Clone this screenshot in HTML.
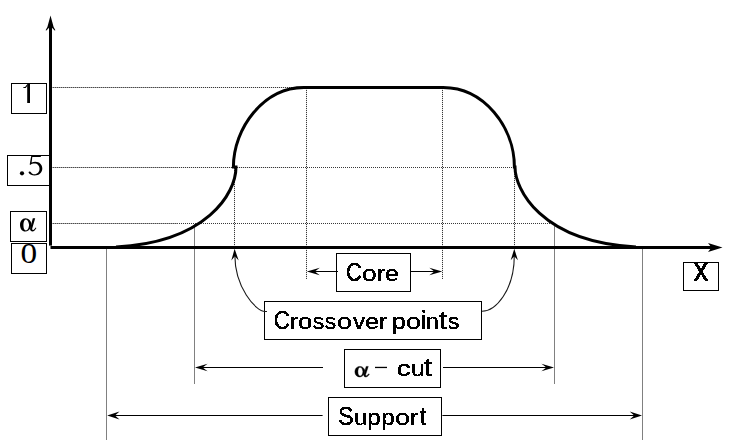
<!DOCTYPE html>
<html>
<head>
<meta charset="utf-8">
<style>
html,body{margin:0;padding:0;background:#fff;}
body{width:738px;height:441px;overflow:hidden;}
svg{display:block;}
.s{font-family:"Liberation Sans",sans-serif;font-size:25px;stroke:#000;stroke-width:0.15px;}
.r{font-family:"Liberation Serif",serif;}
</style>
</head>
<body>
<svg width="738" height="441" viewBox="0 0 738 441">
<defs>
<filter id="crisp" x="0" y="0" width="738" height="441" filterUnits="userSpaceOnUse" color-interpolation-filters="sRGB">
 <feComponentTransfer><feFuncA type="discrete" tableValues="0 1 1"/></feComponentTransfer>
</filter>

</defs>
<rect x="0" y="0" width="738" height="441" fill="#fff"/>

<!-- dotted guide lines: light base + dark dots -->
<g stroke-width="1" shape-rendering="crispEdges" fill="none">
  <line stroke="#a2a2a2" x1="52" y1="87.5" x2="178" y2="87.5"/>
  <line stroke="#a2a2a2" x1="52" y1="167.5" x2="178" y2="167.5"/>
  <line stroke="#a2a2a2" x1="52" y1="223.5" x2="178" y2="223.5"/>
  <line stroke="#dcdcdc" x1="178" y1="87.5" x2="292" y2="87.5"/>
  <line stroke="#dcdcdc" x1="178" y1="167.5" x2="296" y2="167.5"/>
</g>
<g stroke="#e2e2e2" stroke-width="1" shape-rendering="crispEdges" fill="none">
  <line x1="306.5" y1="88" x2="306.5" y2="279"/>
  <line x1="442.5" y1="88" x2="442.5" y2="279"/>
  <line x1="234.5" y1="168" x2="234.5" y2="249"/>
  <line x1="514.5" y1="168" x2="514.5" y2="249"/>
</g>
<g stroke="#4c4c4c" stroke-width="1" stroke-dasharray="1 1" shape-rendering="crispEdges" fill="none">
  <line x1="53" y1="87.5" x2="179" y2="87.5"/>
  <line x1="53" y1="167.5" x2="179" y2="167.5"/>
  <line x1="53" y1="223.5" x2="179" y2="223.5"/>
</g>
<g stroke="#383838" stroke-width="1" stroke-dasharray="1 1" shape-rendering="crispEdges" fill="none">
  <line x1="179" y1="87.5" x2="306" y2="87.5"/>
  <line x1="179" y1="167.5" x2="514" y2="167.5"/>
  <line x1="179" y1="223.5" x2="551" y2="223.5"/>
  <line x1="306.5" y1="88" x2="306.5" y2="279"/>
  <line x1="442.5" y1="88" x2="442.5" y2="279"/>
  <line x1="234.5" y1="168" x2="234.5" y2="249"/>
  <line x1="514.5" y1="168" x2="514.5" y2="249"/>
</g>

<!-- solid gray verticals -->
<g stroke="#808080" stroke-width="1" shape-rendering="crispEdges">
  <line x1="106.5" y1="249" x2="106.5" y2="440"/>
  <line x1="642.5" y1="249" x2="642.5" y2="440"/>
  <line x1="194.5" y1="224" x2="194.5" y2="384"/>
  <line x1="554.5" y1="224" x2="554.5" y2="384"/>
</g>

<!-- axes -->
<rect x="49" y="25" width="3" height="220.6" fill="#000"/>
<path d="M50.5,15.5 L53.6,27 L55.4,30.2 L54.6,30.4 L52,27.8 L49,27.8 L46.4,30.4 L45.6,30.2 L47.4,27 Z" fill="#000"/>
<rect x="50.5" y="246" width="662" height="3" fill="#000"/>
<path d="M722.5,247.5 L708,243 L711.5,247.5 L708,252 Z" fill="#000"/>

<!-- membership curve -->
<path d="M116,247 C206.7,242.1 236,193.5 236,167 L233.4,167 C233.4,127.6 264,87.5 303.9,87.5 L443.1,87.5 C483.9,87.5 514.4,127 514.4,167 L515,167 C515,188.5 539.9,242.1 636,247"
 fill="none" stroke="#000" stroke-width="3"/>

<!-- label boxes -->
<g fill="#fff" stroke="#000" stroke-width="1" shape-rendering="crispEdges">
  <rect x="11.5" y="83.5" width="35" height="30"/>
  <rect x="7.5" y="155.5" width="42" height="30"/>
  <rect x="10.5" y="211.5" width="36" height="30"/>
  <rect x="11.5" y="243.5" width="35" height="30"/>
  <rect x="683.5" y="262.5" width="35" height="28"/>
  <rect x="336.5" y="253.5" width="74" height="38"/>
  <rect x="264.5" y="301.5" width="217" height="38"/>
  <rect x="344.5" y="349.5" width="96" height="38"/>
  <rect x="328.5" y="397.5" width="113" height="38"/>
</g>
<rect x="49" y="150" width="3" height="40" fill="#000"/>

<!-- thin arrows -->
<g stroke="#000" stroke-width="1.05" fill="none">
  <line x1="338" y1="271.5" x2="312" y2="271.5"/>
  <line x1="411" y1="271.5" x2="438" y2="271.5"/>
  <line x1="323" y1="367.5" x2="200" y2="367.5"/>
  <line x1="443" y1="367.5" x2="549" y2="367.5"/>
  <line x1="322.6" y1="415.5" x2="112" y2="415.5"/>
  <line x1="442.4" y1="415.5" x2="637" y2="415.5"/>

</g>
<g stroke="#1a1a1a" stroke-width="1.1" fill="none">
  <path d="M267,311.5 L265.2,311.5 C255.5,311.5 234.5,286.3 234.9,255"/>
  <path d="M482,311.3 C495.3,311.3 514.5,290.7 514.3,255"/>
</g>
<g fill="#000">
  <path d="M306.9,271.5 L319.8,267.7 L314.8,271.5 L319.8,275.3 Z"/>
  <path d="M442.2,271.5 L429.3,267.7 L434.3,271.5 L429.3,275.3 Z"/>
  <path d="M195,367.5 L207.6,363.7 L202.6,367.5 L207.6,371.3 Z"/>
  <path d="M554,367.5 L541.4,363.7 L546.4,367.5 L541.4,371.3 Z"/>
  <path d="M107.2,415.5 L119.5,411.5 L115,415.5 L119.5,419.5 Z"/>
  <path d="M642,415.5 L629.7,411.5 L634.2,415.5 L629.7,419.5 Z"/>
  <path d="M234.6,248.8 L238.7,260.5 L234.8,256.3 L231.3,260.5 Z"/>
  <path d="M514.3,248.8 L517.9,260.2 L514.3,256.3 L510.7,260.2 Z"/>
</g>

<!-- left labels -->
<g fill="#000">
  <!-- "1" -->
  <rect x="27.2" y="84" width="2.8" height="19"/>
  <path d="M27.4,84 L27.6,85.6 L25.7,88 L23.4,88 L23.4,87 L25.1,87 Z"/>
  <!-- ".5" -->
  <circle cx="22" cy="173.3" r="2.1"/>
  <path d="M31.3,155.4 L41.3,155.4 L40.6,157 L32.3,157 L31.6,162.6 C32.8,162 34,161.7 35.2,161.7 C39.5,161.7 42.3,164.6 42.3,168.4 C42.3,172.6 39,175.4 34.6,175.4 C32.2,175.4 29.6,174.4 28.8,173 C28.4,172.3 28.7,171.5 29.4,171.4 C30.1,171.3 30.6,171.8 31.1,172.4 C31.8,173.3 32.8,174.3 34.4,174.3 C37.6,174.3 39.5,171.9 39.5,168.8 C39.5,165.5 37.4,163.5 34.4,163.5 C32.8,163.5 31.4,164 30.2,164.9 L29.7,164.6 Z"/>
  <!-- alpha -->
  <g transform="translate(20,218.3)">
 <path fill-rule="evenodd" d="M5.6,0 C2.2,0 0,3 0,6.6 C0,10.2 2.2,13.2 5.3,13.2 C7.6,13.2 9.4,11.6 10.8,9.2 L11.4,5.2 C10.6,2.2 8.6,0 5.6,0 Z M5.9,1.1 C4.3,1.1 3.4,3.6 3.4,6.6 C3.4,9.6 4.3,12.1 5.9,12.1 C7.6,12.1 8.8,9.6 9.1,6.6 C8.8,3.6 7.6,1.1 5.9,1.1 Z"/>
 <path d="M12.8,0 L15.2,0 L12.2,10.2 C12.1,11.4 12.7,11.9 13.4,11.6 C14.1,11.3 14.9,10.3 15.7,9.3 L16.4,9.7 C15.3,11.4 14.2,13.2 12.2,13.2 C10.4,13.2 9.9,11.4 10.1,10.3 Z"/>
</g>
  <!-- "0" -->
  <text class="r" transform="translate(20.4,263) scale(1.13,1)" font-size="29.5">0</text>
</g>

<!-- text labels -->
<g fill="#000" filter="url(#crisp)">
  <path d="M693.8,262.6 L697.1,262.6 L708.1,280.8 L704.9,280.8 Z M704.8,262.6 L708.1,262.6 L697.1,280.8 L693.9,280.8 Z"/>
  <text class="s" transform="translate(346,281) scale(0.869,1)">C</text>
  <text class="s" transform="translate(362.1,281) scale(1.058,0.9)">o</text>
  <text class="s" transform="translate(377,281) scale(1.014,0.9)">r</text>
  <text class="s" transform="translate(385,281) scale(1.0,0.9)">e</text>
  <text class="s" transform="translate(273.8,329) scale(0.9,1)">C</text>
  <text class="s" transform="translate(290,329) scale(0.971,0.9)">r</text>
  <text class="s" transform="translate(298,329) scale(1.025,0.9)">o</text>
  <text class="s" transform="translate(312.8,329) scale(0.927,0.9)">s</text>
  <text class="s" transform="translate(324.8,329) scale(0.918,0.9)">s</text>
  <text class="s" transform="translate(337.1,329) scale(1.075,0.9)">o</text>
  <text class="s" transform="translate(353.1,329) scale(0.967,0.9)">v</text>
  <text class="s" transform="translate(365.3,329) scale(0.992,0.9)">e</text>
  <text class="s" transform="translate(379.1,329) scale(1.0,0.9)">r</text>
  <text class="s" transform="translate(391.9,329) scale(1.0,0.9)">p</text>
  <text class="s" transform="translate(406,329) scale(1.075,0.9)">o</text>
  <text class="s" transform="translate(421,329) scale(1.033,1)">i</text>
  <text class="s" transform="translate(425.8,329) scale(0.95,0.9)">n</text>
  <text class="s" transform="translate(439.1,329) scale(1.143,1)">t</text>
  <text class="s" transform="translate(447.9,329) scale(0.918,0.9)">s</text>
  <text class="s" transform="translate(396.8,376) scale(1.1,0.9)">c</text>
  <text class="s" transform="translate(411,376) scale(0.991,0.9)">u</text>
  <text class="s" transform="translate(424.1,376) scale(1.129,1)">t</text>
  <text class="s" transform="translate(337.9,425) scale(0.94,1)">S</text>
  <text class="s" transform="translate(354.1,425) scale(0.973,0.9)">u</text>
  <text class="s" transform="translate(367.3,425) scale(0.967,0.9)">p</text>
  <text class="s" transform="translate(381.4,425) scale(0.95,0.9)">p</text>
  <text class="s" transform="translate(395.3,425) scale(1.05,0.9)">o</text>
  <text class="s" transform="translate(410,425) scale(1.014,0.9)">r</text>
  <text class="s" transform="translate(419.9,425) scale(0.871,1)">t</text>
</g>
<g fill="#000">
  <g transform="translate(354.9,366.4) scale(0.88,0.8)" stroke="#000" stroke-width="0.5">
 <path fill-rule="evenodd" d="M5.6,0 C2.2,0 0,3 0,6.6 C0,10.2 2.2,13.2 5.3,13.2 C7.6,13.2 9.4,11.6 10.8,9.2 L11.4,5.2 C10.6,2.2 8.6,0 5.6,0 Z M5.9,1.1 C4.3,1.1 3.4,3.6 3.4,6.6 C3.4,9.6 4.3,12.1 5.9,12.1 C7.6,12.1 8.8,9.6 9.1,6.6 C8.8,3.6 7.6,1.1 5.9,1.1 Z"/>
 <path d="M12.8,0 L15.2,0 L12.2,10.2 C12.1,11.4 12.7,11.9 13.4,11.6 C14.1,11.3 14.9,10.3 15.7,9.3 L16.4,9.7 C15.3,11.4 14.2,13.2 12.2,13.2 C10.4,13.2 9.9,11.4 10.1,10.3 Z"/>
</g>
  <rect x="375" y="366.8" width="12" height="1.3"/>
</g>
</svg>
</body>
</html>
